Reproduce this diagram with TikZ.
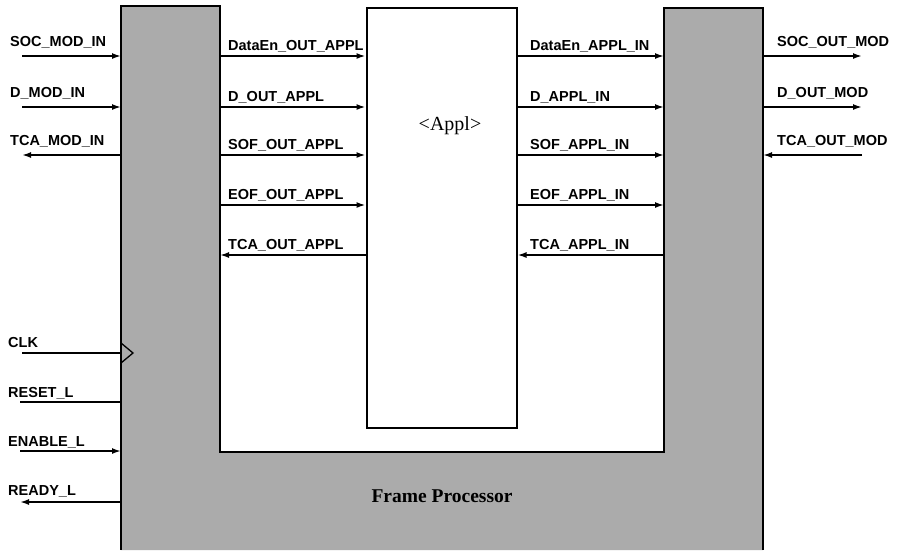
\documentclass[tikz,border=0pt]{standalone}
\usepackage{fontspec}
\setmainfont{Liberation Serif}
\setsansfont{Liberation Sans}
\usetikzlibrary{arrows.meta}
\begin{document}
\begin{tikzpicture}[x=1pt,y=-1pt,
  sig/.style={line width=1.7pt,-{Latex[length=9pt,width=6pt]}},
  wire/.style={line width=1.7pt},
  lbl/.style={font=\sffamily\bfseries\fontsize{14.5}{16}\selectfont,anchor=base west,inner sep=0pt},
  blk/.style={draw,line width=2pt,fill=white,inner sep=0pt}]
\useasboundingbox (0,0) rectangle (897,550);
% frame processor (U shape)
\fill[black!33] (121,6) -- (220,6) -- (220,452) -- (664,452) -- (664,8) -- (763,8) -- (763,550) -- (121,550) -- cycle;
\draw[line width=2.2pt] (121,550) -- (121,6) -- (220,6) -- (220,452) -- (664,452) -- (664,8) -- (763,8) -- (763,550);
\coordinate (FL) at (121,0);
\coordinate (FLi) at (220,0);
\coordinate (FRi) at (664,0);
\coordinate (FR) at (763,0);
\node[font=\bfseries\fontsize{19.5}{22}\selectfont,inner sep=0pt] (fp) at (442,496) {Frame Processor};
% application box
\node[blk,minimum width=150pt,minimum height=420pt] (appl) at (441.5,218) {};
\node[font=\fontsize{20}{22}\selectfont,inner sep=0pt] (appltxt) at (450,126) {<Appl>};
% left outer signals
\coordinate (socin) at (22,56);
\coordinate (dmodin) at (22,107);
\coordinate (tcamodin) at (22,155);
\coordinate (clk) at (22,353);
\coordinate (reset) at (20,402);
\coordinate (enable) at (20,451);
\coordinate (ready) at (20,502);
\draw[sig] (socin) -- (socin -| FL);
\draw[sig] (dmodin) -- (dmodin -| FL);
\draw[sig] (tcamodin -| FL) -- (tcamodin);
\draw[wire] (clk) -- (clk -| FL);
\draw[wire] (reset) -- (reset -| FL);
\draw[sig] (enable) -- (enable -| FL);
\draw[sig] (ready -| FL) -- (ready);
\draw[line width=1.3pt] (121,343) -- (133,353) -- (121,363);
\node[lbl] (l1) at (10,46) {SOC\_MOD\_IN};
\node[lbl] (l2) at (10,97) {D\_MOD\_IN};
\node[lbl] (l3) at (10,145) {TCA\_MOD\_IN};
\node[lbl] (l4) at (8,347) {CLK};
\node[lbl] (l5) at (8,397) {RESET\_L};
\node[lbl] (l6) at (8,446) {ENABLE\_L};
\node[lbl] (l7) at (8,495) {READY\_L};
% inner left signals
\coordinate (a1) at (0,56);
\coordinate (a2) at (0,107);
\coordinate (a3) at (0,155);
\coordinate (a4) at (0,205);
\coordinate (a5) at (0,255);
\draw[sig] (a1 -| FLi) -- (a1 -| appl.west);
\draw[sig] (a2 -| FLi) -- (a2 -| appl.west);
\draw[sig] (a3 -| FLi) -- (a3 -| appl.west);
\draw[sig] (a4 -| FLi) -- (a4 -| appl.west);
\draw[sig] (a5 -| appl.west) -- (a5 -| FLi);
\node[lbl] (m1) at (228,50) {DataEn\_OUT\_APPL};
\node[lbl] (m2) at (228,101) {D\_OUT\_APPL};
\node[lbl] (m3) at (228,149) {SOF\_OUT\_APPL};
\node[lbl] (m4) at (228,199) {EOF\_OUT\_APPL};
\node[lbl] (m5) at (228,249) {TCA\_OUT\_APPL};
% inner right signals
\draw[sig] (a1 -| appl.east) -- (a1 -| FRi);
\draw[sig] (a2 -| appl.east) -- (a2 -| FRi);
\draw[sig] (a3 -| appl.east) -- (a3 -| FRi);
\draw[sig] (a4 -| appl.east) -- (a4 -| FRi);
\draw[sig] (a5 -| FRi) -- (a5 -| appl.east);
\node[lbl] (n1) at (530,50) {DataEn\_APPL\_IN};
\node[lbl] (n2) at (530,101) {D\_APPL\_IN};
\node[lbl] (n3) at (530,149) {SOF\_APPL\_IN};
\node[lbl] (n4) at (530,199) {EOF\_APPL\_IN};
\node[lbl] (n5) at (530,249) {TCA\_APPL\_IN};
% right outer signals
\coordinate (socout) at (862,56);
\coordinate (doutmod) at (862,107);
\coordinate (tcaoutmod) at (862,155);
\draw[sig] (socout -| FR) -- (socout);
\draw[sig] (doutmod -| FR) -- (doutmod);
\draw[sig] (tcaoutmod) -- (tcaoutmod -| FR);
\node[lbl] (r1) at (777,46) {SOC\_OUT\_MOD};
\node[lbl] (r2) at (777,97) {D\_OUT\_MOD};
\node[lbl] (r3) at (777,145) {TCA\_OUT\_MOD};
\end{tikzpicture}
\end{document}
